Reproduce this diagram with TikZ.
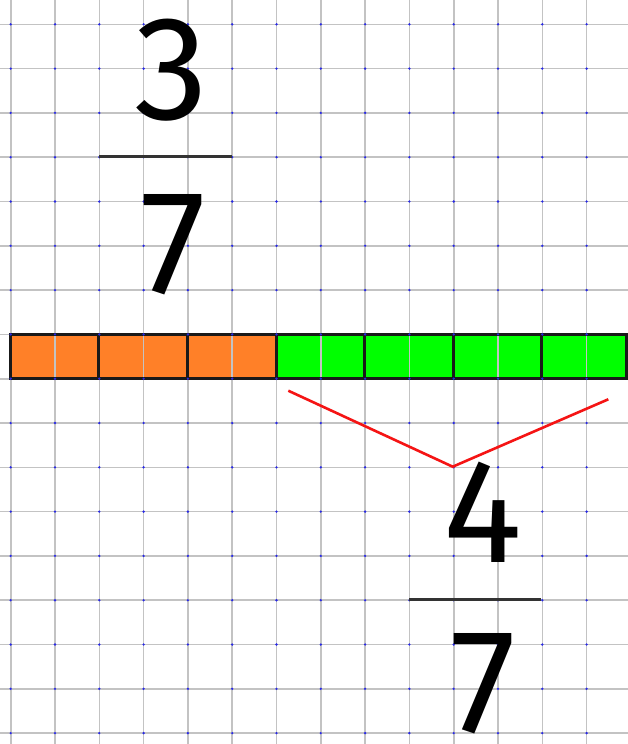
\documentclass[tikz,border=0pt]{standalone}
\usepackage{fontspec}
\setmainfont{Fira Sans}
\definecolor{gridgray}{RGB}{195,195,195}
\definecolor{dotblue}{RGB}{40,40,230}
\definecolor{barorange}{RGB}{255,128,40}
\definecolor{bargreen}{RGB}{0,255,0}
\definecolor{vred}{RGB}{245,20,20}
\begin{document}
\begin{tikzpicture}[x=1pt,y=-1pt,
  gridline/.style={draw=gridgray,line width=1.6pt},
  dotmark/.style={fill=dotblue},
  segborder/.style={draw=black!90,line width=3pt},
  fracbar/.style={draw=black!80,line width=3pt},
  digit/.style={inner sep=0pt,font=\fontsize{148}{148}\selectfont},
  vline/.style={draw=vred,line width=2.6pt,line join=miter}]
\useasboundingbox (0,0) rectangle (628,744);
\fill[white] (0,0) rectangle (628,744);
% bar fills
\foreach \i in {0,1,2}{
  \fill[barorange] (10.7+88.6*\i,334.5) rectangle (10.7+88.6*\i+88.6,378.5);
}
\fill[bargreen] (276.5,334.5) rectangle (626.5,378.5);
% grid
\foreach \k in {0,...,13}{
  \draw[gridline] (10.7+44.3*\k,0) -- (10.7+44.3*\k,744);
}
\foreach \k in {0,...,16}{
  \draw[gridline] (0,24.3+44.3*\k) -- (628,24.3+44.3*\k);
}
% segment borders
\draw[segborder] (10.7,334.5) rectangle (626.5,378.5);
\foreach \x in {98.9,187.5,276.5,364.5,453.1,541.7}{
  \draw[segborder] (\x,334.5) -- (\x,378.5);
}
% dots
\foreach \k in {0,...,13}{
  \foreach \j in {0,...,16}{
    \fill[dotmark] (10.7+44.3*\k,24.3+44.3*\j) circle (1.3);
  }
}
% fraction 3/7
\node[digit] (n3) at (171,70) {3};
\coordinate (b1l) at (99.3,156);
\coordinate (b1r) at (232,156);
\draw[fracbar] (b1l) -- (b1r);
\node[digit] (n7a) at (173,245) {7};
% red V
\coordinate (vl) at (288.3,390.7);
\coordinate (vm) at (452.7,466.7);
\coordinate (vr) at (608.3,399.3);
\draw[vline] (vl) -- (vm) -- (vr);
% fraction 4/7
\node[digit] (n4) at (483,512) {4};
\coordinate (b2l) at (409.4,599.3);
\coordinate (b2r) at (541,599.3);
\draw[fracbar] (b2l) -- (b2r);
\node[digit] (n7b) at (483,684) {7};
\end{tikzpicture}
\end{document}
